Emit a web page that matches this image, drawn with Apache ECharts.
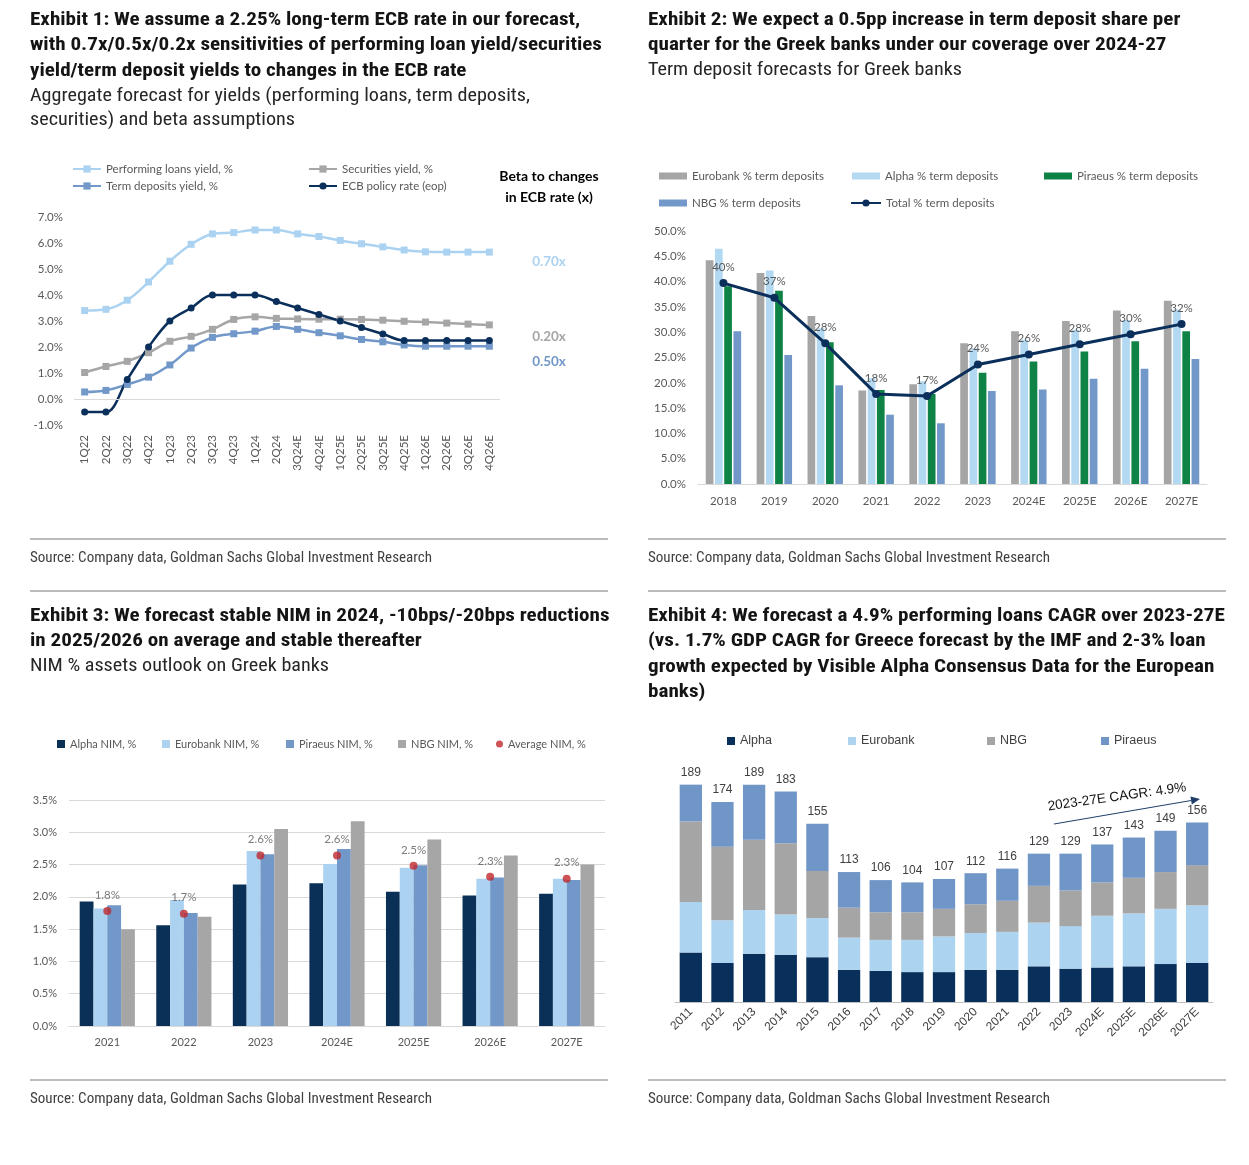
<!DOCTYPE html>
<html><head><meta charset="utf-8">
<script src="https://cdn.jsdelivr.net/npm/echarts@6/dist/echarts.min.js"></script>
<style>html,body{margin:0;padding:0;background:#fff}#c{width:1249px;height:1165px}</style>
</head><body><div id="c"></div><script>
// ---------- DATA ----------
const ex1Quarters = ['1Q22','2Q22','3Q22','4Q22','1Q23','2Q23','3Q23','4Q23','1Q24','2Q24','3Q24E','4Q24E','1Q25E','2Q25E','3Q25E','4Q25E','1Q26E','2Q26E','3Q26E','4Q26E'];
const loansYield      = [3.40,3.45,3.80,4.50,5.30,5.95,6.35,6.40,6.50,6.50,6.35,6.25,6.10,5.97,5.85,5.73,5.66,5.65,5.65,5.65];
const securitiesYield = [1.02,1.25,1.45,1.78,2.22,2.41,2.68,3.06,3.16,3.10,3.08,3.07,3.07,3.06,3.03,2.99,2.96,2.92,2.88,2.85];
const termDepYield    = [0.27,0.33,0.56,0.84,1.31,1.96,2.37,2.51,2.61,2.79,2.68,2.55,2.43,2.29,2.20,2.08,2.03,2.03,2.03,2.03];
const ecbRate         = [-0.50,-0.50,0.75,2.00,3.00,3.50,4.00,4.00,4.00,3.75,3.50,3.25,3.00,2.75,2.50,2.25,2.25,2.25,2.25,2.25];
const betaLabels = ['0.70x','0.20x','0.50x'];

const years2 = ['2018','2019','2020','2021','2022','2023','2024E','2025E','2026E','2027E'];
const eurobankTD = [44.2,41.7,33.2,18.5,19.7,27.8,30.2,32.2,34.3,36.2];
const alphaTD    = [46.5,42.2,30.8,20.9,20.3,26.8,28.5,30.5,32.4,34.5];
const piraeusTD  = [39.1,38.2,28.0,18.6,17.8,22.0,24.2,26.2,28.2,30.2];
const nbgTD      = [30.2,25.5,19.5,13.7,12.0,18.4,18.7,20.8,22.8,24.7];
const totalTD    = [39.7,36.8,27.8,17.8,17.4,23.6,25.6,27.6,29.6,31.6];

const years3 = ['2021','2022','2023','2024E','2025E','2026E','2027E'];
const alphaNIM    = [1.93,1.56,2.19,2.21,2.08,2.02,2.05];
const eurobankNIM = [1.82,1.95,2.71,2.51,2.45,2.28,2.28];
const piraeusNIM  = [1.87,1.75,2.66,2.74,2.49,2.30,2.26];
const nbgNIM      = [1.50,1.69,3.05,3.17,2.89,2.64,2.50];
const avgNIM      = [1.78,1.74,2.64,2.64,2.48,2.31,2.28];

const years4 = ['2011','2012','2013','2014','2015','2016','2017','2018','2019','2020','2021','2022','2023','2024E','2025E','2026E','2027E'];
const alphaLoans    = [43,34,42,41,39,28,27,26,26,28,28,31,29,30,31,33,34];
const eurobankLoans = [44,37,38,35,34,28,27,28,31,32,33,38,37,45,46,48,50];
const nbgLoans      = [70,64,61,62,41,26,24,24,24,25,27,32,31,29,31,32,35];
const piraeusLoans  = [32,39,48,45,41,31,28,26,26,27,28,28,32,33,35,36,37];
const cagrText = '2023-27E CAGR: 4.9%';

// ---------- STYLE ----------
const C = { navy:'#0b2f5b', light:'#abd3f1', mid:'#7298c9', grey:'#a6a6a6', green:'#0f8346', red:'#c0282d' };
const CF = 'Lato, "Open Sans", sans-serif';
const AF = '"Liberation Sans", Arial, sans-serif';
const NF = '"Liberation Sans Narrow", "Arial Narrow", "Roboto Condensed", Roboto, "Liberation Sans", sans-serif';
const axisTxt = { fontFamily: CF, fontSize: 11.5, color: '#595959' };

// ---------- TEXT BLOCKS ----------
const textLines = [
  ['title','Exhibit 1: We assume a 2.25% long-term ECB rate in our forecast,',30,20,552],
  ['title','with 0.7x/0.5x/0.2x sensitivities of performing loan yield/securities',30,45,567],
  ['title','yield/term deposit yields to changes in the ECB rate',30,71,441],
  ['sub','Aggregate forecast for yields (performing loans, term deposits,',30,97,500],
  ['sub','securities) and beta assumptions',30,121,263],
  ['title','Exhibit 2: We expect a 0.5pp increase in term deposit share per',648,20,538],
  ['title','quarter for the Greek banks under our coverage over 2024-27',648,45,516],
  ['sub','Term deposit forecasts for Greek banks',648,71,312],
  ['title','Exhibit 3: We forecast stable NIM in 2024, -10bps/-20bps reductions',30,616,574],
  ['title','in 2025/2026 on average and stable thereafter',30,641,385],
  ['sub','NIM % assets outlook on Greek banks',30,667,303],
  ['title','Exhibit 4: We forecast a 4.9% performing loans CAGR over 2023-27E',648,616,573],
  ['title','(vs. 1.7% GDP CAGR for Greece forecast by the IMF and 2-3% loan',648,641,559],
  ['title','growth expected by Visible Alpha Consensus Data for the European',648,667,578],
  ['title','banks)',648,692,56],
  ['source','Source: Company data, Goldman Sachs Global Investment Research',30,558,402],
  ['source','Source: Company data, Goldman Sachs Global Investment Research',648,558,402],
  ['source','Source: Company data, Goldman Sachs Global Investment Research',30,1099,402],
  ['source','Source: Company data, Goldman Sachs Global Investment Research',648,1099,402]
];
const fonts = { title: 'bold 18.5px ' + NF, sub: '17.5px ' + NF, source: '15px ' + NF };
const fills = { title: '#141414', sub: '#262626', source: '#404040' };
const mctx = document.createElement('canvas').getContext('2d');
const sums = {};
textLines.forEach(l => {
  mctx.font = fonts[l[0]];
  const w = mctx.measureText(l[1]).width;
  sums[l[0]] = sums[l[0]] || { t: 0, m: 0 };
  sums[l[0]].t += l[4]; sums[l[0]].m += w;
});
const graphic = [];
textLines.forEach(l => {
  const s = sums[l[0]].t / sums[l[0]].m;
  graphic.push({ type: 'text', x: l[2], y: l[3], scaleX: s, silent: true,
    style: { text: l[1], font: fonts[l[0]], fill: fills[l[0]], textAlign: 'left', textVerticalAlign: 'middle' } });
});
[[539],[591],[1080]].forEach(r => {
  [[30,608],[648,1226]].forEach(xx => graphic.push({ type: 'line', silent: true,
    shape: { x1: xx[0], y1: r[0], x2: xx[1], y2: r[0] }, style: { stroke: '#a6a6a6', lineWidth: 1.5 } }));
});
// Exhibit 1 beta annotations
graphic.push({ type: 'text', x: 549, y: 176, silent: true, style: { text: 'Beta to changes', font: 'bold 14px ' + CF, fill: '#000', textAlign: 'center', textVerticalAlign: 'middle' } });
graphic.push({ type: 'text', x: 549, y: 197, silent: true, style: { text: 'in ECB rate (x)', font: 'bold 14px ' + CF, fill: '#000', textAlign: 'center', textVerticalAlign: 'middle' } });
[[betaLabels[0], 262, C.light], [betaLabels[1], 337, C.grey], [betaLabels[2], 362, C.mid]].forEach(b => {
  graphic.push({ type: 'text', x: 549, y: b[1], silent: true, style: { text: b[0], font: 'bold 13.5px ' + CF, fill: b[2], textAlign: 'center', textVerticalAlign: 'middle' } });
});
// Exhibit 4 CAGR arrow annotation
(function () {
  const x1 = 1054, y1 = 824, x2 = 1200, y2 = 799;
  const a = Math.atan2(y2 - y1, x2 - x1), L = 9, W = 4;
  const bx = x2 - L * Math.cos(a), by = y2 - L * Math.sin(a);
  graphic.push({ type: 'line', silent: true, shape: { x1: x1, y1: y1, x2: bx, y2: by }, style: { stroke: '#1f3f6b', lineWidth: 1 } });
  graphic.push({ type: 'polygon', silent: true, shape: { points: [[x2, y2], [bx - W * Math.sin(a), by + W * Math.cos(a)], [bx + W * Math.sin(a), by - W * Math.cos(a)]] }, style: { fill: '#1f3f6b' } });
  graphic.push({ type: 'text', x: 1117, y: 797, rotation: 8 * Math.PI / 180, silent: true,
    style: { text: cagrText, font: '13.5px ' + AF, fill: '#111', textAlign: 'center', textVerticalAlign: 'middle' } });
})();

// ---------- LEGENDS ----------
function leg(name, left, cy, o) {
  return Object.assign({ data: [name], left: left, top: cy - 7, padding: 0, itemGap: 0,
    selectedMode: false, textStyle: { fontFamily: CF, fontSize: 11.5, color: '#595959', lineHeight: 14 } }, o);
}
const lineLeg = { itemWidth: 28, itemHeight: 9 };
const rectLeg = { itemWidth: 28, itemHeight: 7, icon: 'rect' };
const sqLeg = { itemWidth: 8, itemHeight: 8, icon: 'rect', textStyle: { fontFamily: CF, fontSize: 11, color: '#595959', lineHeight: 14 } };
const legend = [
  leg('Performing loans yield, %', 72, 169, lineLeg),
  leg('Securities yield, %', 308, 169, lineLeg),
  leg('Term deposits yield, %', 72, 186, lineLeg),
  leg('ECB policy rate (eop)', 308, 186, lineLeg),
  leg('Eurobank % term deposits', 659, 176, rectLeg),
  leg('Alpha % term deposits', 852, 176, rectLeg),
  leg('Piraeus % term deposits', 1044, 176, rectLeg),
  leg('NBG % term deposits', 659, 203, rectLeg),
  leg('Total % term deposits', 850, 203, { itemWidth: 30, itemHeight: 9 }),
  leg('Alpha NIM, %', 57, 744, sqLeg),
  leg('Eurobank NIM, %', 162, 744, sqLeg),
  leg('Piraeus NIM, %', 286, 744, sqLeg),
  leg('NBG NIM, %', 398, 744, sqLeg),
  leg('Average NIM, %', 496, 744, { itemWidth: 7, itemHeight: 7, icon: 'circle', textStyle: sqLeg.textStyle }),
].concat([['Alpha', 727], ['Eurobank', 848], ['NBG', 987], ['Piraeus', 1101]].map(p =>
  leg(p[0], p[1], 741, { itemWidth: 8, itemHeight: 8, icon: 'rect', textStyle: { fontFamily: AF, fontSize: 12.5, color: '#404040', lineHeight: 14 } })));

// ---------- SERIES ----------
function ln(name, data, color, symbol) {
  return { name: name, type: 'line', xAxisIndex: 0, yAxisIndex: 0, data: data, smooth: 0.35,
    symbol: symbol, symbolSize: 7, lineStyle: { width: 2.5, color: color }, itemStyle: { color: color }, emphasis: { disabled: true } };
}
const s1 = ln('Performing loans yield, %', loansYield, C.light, 'rect');
s1.markLine = { silent: true, symbol: 'none', label: { show: false }, lineStyle: { color: '#d9d9d9', width: 1, type: 'solid' }, data: [{ yAxis: 0 }] };
function br(name, data, color, xi, o) {
  return Object.assign({ name: name, type: 'bar', xAxisIndex: xi, yAxisIndex: xi, data: data, itemStyle: { color: color }, emphasis: { disabled: true } }, o);
}
const totals4 = years4.map((_, i) => alphaLoans[i] + eurobankLoans[i] + nbgLoans[i] + piraeusLoans[i]);
const series = [
  s1,
  ln('Securities yield, %', securitiesYield, C.grey, 'rect'),
  ln('Term deposits yield, %', termDepYield, C.mid, 'rect'),
  ln('ECB policy rate (eop)', ecbRate, C.navy, 'circle'),
  br('Eurobank % term deposits', eurobankTD, '#a5a5a5', 1, { barWidth: 7.7, barGap: '20%' }),
  br('Alpha % term deposits', alphaTD, '#b3d8f2', 1, { barWidth: 7.7, barGap: '20%' }),
  br('Piraeus % term deposits', piraeusTD, C.green, 1, { barWidth: 7.7, barGap: '20%' }),
  br('NBG % term deposits', nbgTD, C.mid, 1, { barWidth: 7.7, barGap: '20%' }),
  { name: 'Total % term deposits', type: 'line', xAxisIndex: 1, yAxisIndex: 1, data: totalTD, symbol: 'circle', symbolSize: 8,
    lineStyle: { width: 3, color: C.navy }, itemStyle: { color: C.navy }, emphasis: { disabled: true }, z: 5,
    label: { show: true, position: 'top', distance: 6, formatter: p => Math.round(p.value) + '%', fontFamily: CF, fontSize: 11.5, color: '#595959' } },
  br('Alpha NIM, %', alphaNIM, '#0b3058', 2, { barWidth: 13.8, barGap: '0%' }),
  br('Eurobank NIM, %', eurobankNIM, C.light, 2, { barWidth: 13.8, barGap: '0%' }),
  br('Piraeus NIM, %', piraeusNIM, C.mid, 2, { barWidth: 13.8, barGap: '0%' }),
  br('NBG NIM, %', nbgNIM, C.grey, 2, { barWidth: 13.8, barGap: '0%' }),
  { name: 'Average NIM, %', type: 'scatter', xAxisIndex: 2, yAxisIndex: 2, data: avgNIM, symbol: 'circle', symbolSize: 8,
    itemStyle: { color: C.red }, emphasis: { disabled: true }, z: 5,
    label: { show: true, position: 'top', distance: 6, formatter: p => p.value.toFixed(1) + '%', fontFamily: CF, fontSize: 11.5, color: '#595959' } },
  br('Alpha', alphaLoans, '#08305a', 3, { stack: 'loans', barWidth: 22.3 }),
  br('Eurobank', eurobankLoans, '#acd3ef', 3, { stack: 'loans', barWidth: 22.3 }),
  br('NBG', nbgLoans, '#a5a5a5', 3, { stack: 'loans', barWidth: 22.3 }),
  br('Piraeus', piraeusLoans, '#7096c7', 3, { stack: 'loans', barWidth: 22.3,
    label: { show: true, position: 'top', distance: 6, formatter: p => String(totals4[p.dataIndex]), fontFamily: AF, fontSize: 12, color: '#404040' } })
];

const noAx = { axisLine: { show: false }, axisTick: { show: false }, splitLine: { show: false } };
const option = {
  animation: false,
  backgroundColor: '#fff',
  grid: [
    { left: 74, top: 217, width: 426, height: 208, outerBoundsMode: 'none' },
    { left: 698, top: 231, width: 509, height: 253, outerBoundsMode: 'none' },
    { left: 69, top: 800, width: 536, height: 226, outerBoundsMode: 'none' },
    { left: 675, top: 772, width: 538, height: 230, outerBoundsMode: 'none' }
  ],
  xAxis: [
    Object.assign({ gridIndex: 0, type: 'category', data: ex1Quarters, axisLabel: Object.assign({}, axisTxt, { fontSize: 11.5, rotate: 90, interval: 0, margin: 10 }) }, noAx),
    { gridIndex: 1, type: 'category', data: years2, axisLine: { show: true, lineStyle: { color: '#d9d9d9', width: 1 } }, axisTick: { show: false },
      axisLabel: Object.assign({}, axisTxt, { interval: 0, margin: 11 }) },
    { gridIndex: 2, type: 'category', data: years3, axisLine: { show: true, lineStyle: { color: '#d9d9d9', width: 1 } }, axisTick: { show: false },
      axisLabel: Object.assign({}, axisTxt, { fontSize: 11, interval: 0, margin: 11 }) },
    { gridIndex: 3, type: 'category', data: years4, axisLine: { show: true, lineStyle: { color: '#bfbfbf', width: 1 } }, axisTick: { show: false },
      axisLabel: { fontFamily: AF, fontSize: 12, color: '#404040', rotate: 45, interval: 0, margin: 8 } }
  ],
  yAxis: [
    Object.assign({ gridIndex: 0, type: 'value', min: -1, max: 7, interval: 1, axisLabel: Object.assign({}, axisTxt, { margin: 11, formatter: v => v.toFixed(1) + '%' }) }, noAx),
    Object.assign({ gridIndex: 1, type: 'value', min: 0, max: 50, interval: 5, axisLabel: Object.assign({}, axisTxt, { margin: 12, formatter: v => v.toFixed(1) + '%' }) }, noAx),
    { gridIndex: 2, type: 'value', min: 0, max: 3.5, interval: 0.5, axisLine: { show: false }, axisTick: { show: false },
      splitLine: { show: true, lineStyle: { color: '#d9d9d9', width: 1 } },
      axisLabel: Object.assign({}, axisTxt, { fontSize: 11, margin: 12, formatter: v => v.toFixed(1) + '%' }) },
    { gridIndex: 3, type: 'value', min: 0, max: 200, show: false, splitLine: { show: false } }
  ],
  legend: legend,
  series: series,
  graphic: graphic
};
const chart = echarts.init(document.getElementById('c'), null, { renderer: 'canvas' });
chart.setOption(option);
</script></body></html>
